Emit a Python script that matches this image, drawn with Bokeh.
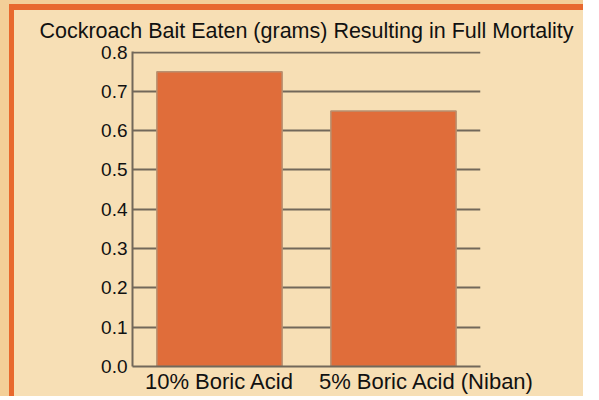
from bokeh.plotting import figure
from bokeh.models import Range1d, FixedTicker, PrintfTickFormatter
from bokeh.embed import file_html
from bokeh.resources import INLINE

title_text = "Cockroach Bait Eaten (grams) Resulting in Full Mortality"
categories = ["10% Boric Acid", "5% Boric Acid (Niban)"]
values = [0.75, 0.65]
y_ticks = [0.0, 0.1, 0.2, 0.3, 0.4, 0.5, 0.6, 0.7, 0.8]

PANEL = "#f7dfb5"
OUTER = "#f3cf98"
ORANGE = "#e8692e"
GRID = "#72685a"
BAR = "#e06d3a"
FONT = "Liberation Sans"
LABEL_NUDGE = [0.0, 0.19]  # the 2nd label sits right of its bar in the original

n = len(categories)
bar_x = [i + 0.5 for i in range(n)]
label_pos = [bar_x[i] + LABEL_NUDGE[i] for i in range(n)]

p = figure(
    x_range=Range1d(0, n),
    y_range=Range1d(0, 0.8015),
    frame_width=348, frame_height=315,
    output_backend="svg", toolbar_location=None,
    min_border_left=132, min_border_right=103,
    min_border_top=51, min_border_bottom=20,
    title=title_text,
)
p.styles = {"background-color": PANEL,
            "box-shadow": ("inset 9px 4px 0 0 " + OUTER + ", "
                           "inset 14px 10px 0 0 " + ORANGE)}

p.background_fill_color = PANEL
p.border_fill_color = None
p.outline_line_color = None

p.title.text_font = FONT
p.title.text_font_size = "21.5px"
p.title.text_font_style = "normal"
p.title.text_color = "#111111"
p.title.align = "center"
p.title.standoff = 17

p.vbar(x=bar_x, top=values, width=0.72, fill_color=BAR,
       line_color="#b89070", line_width=1.5)

p.xgrid.grid_line_color = None
p.ygrid.ticker = FixedTicker(ticks=y_ticks)
p.ygrid.grid_line_color = GRID
p.ygrid.grid_line_width = 2
p.ygrid.level = "underlay"

p.yaxis.ticker = FixedTicker(ticks=y_ticks)
p.yaxis.formatter = PrintfTickFormatter(format="%.1f")
p.xaxis.ticker = FixedTicker(ticks=label_pos)
p.xaxis.major_label_overrides = {pos: c for pos, c in zip(label_pos, categories)}
for ax in (p.xaxis[0], p.yaxis[0]):
    ax.axis_line_color = GRID
    ax.axis_line_width = 2
    ax.major_tick_line_color = None
    ax.minor_tick_line_color = None
    ax.major_tick_out = 0
    ax.major_tick_in = 0
    ax.minor_tick_out = 0
    ax.minor_tick_in = 0
    ax.major_label_text_font = FONT
    ax.major_label_text_color = "#111111"
p.yaxis.major_label_text_font_size = "19px"
p.yaxis.major_label_standoff = 5
p.xaxis.major_label_text_font_size = "22px"
p.xaxis.major_label_standoff = 2

open("out.html", "w").write(file_html(p, INLINE))
